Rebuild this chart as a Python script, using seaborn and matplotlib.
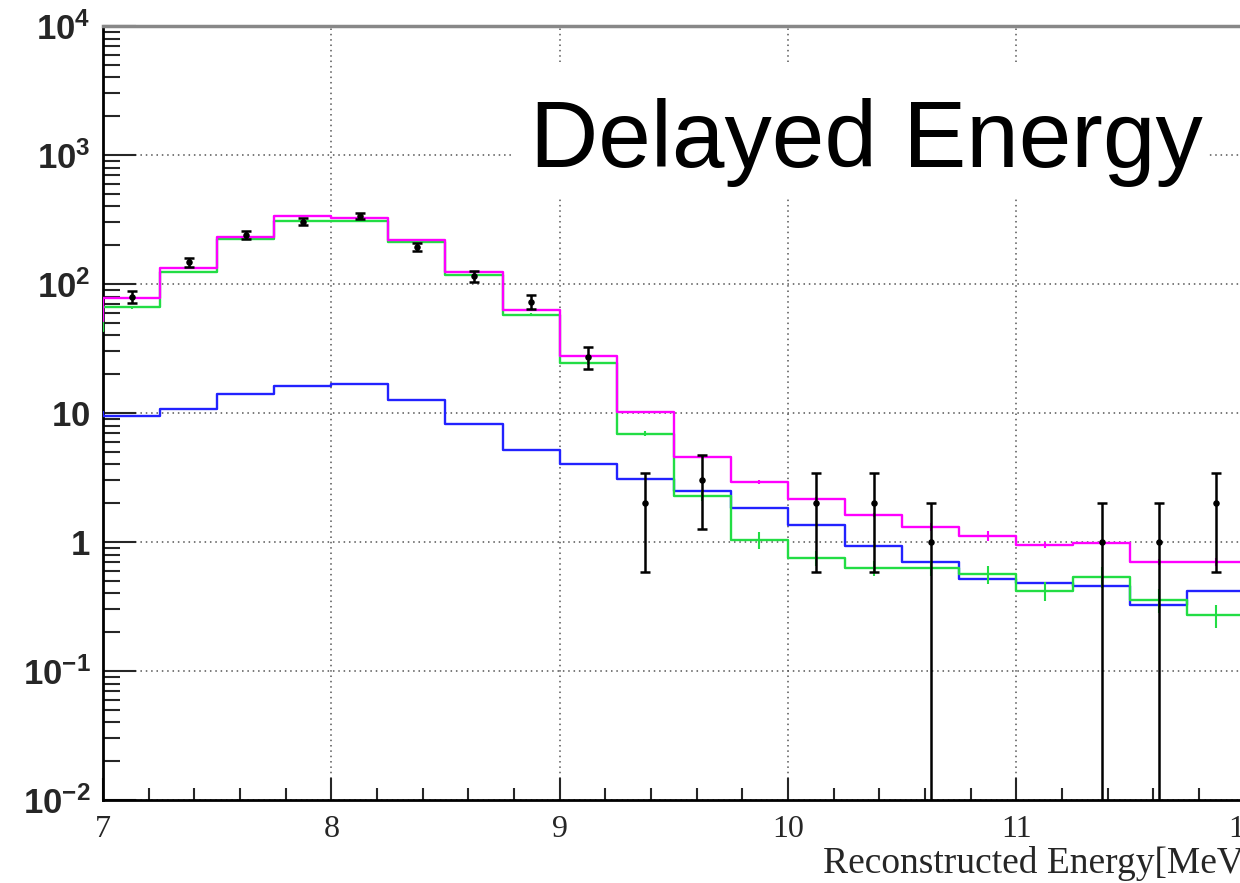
import numpy as np
import pandas as pd
import matplotlib
matplotlib.use("Agg")
import matplotlib.pyplot as plt
import seaborn as sns
from matplotlib.ticker import MultipleLocator, LogLocator, FuncFormatter, NullFormatter, FixedLocator
from matplotlib.patches import Rectangle

# ---------------- data ----------------
bin_edges = [6.75, 7.0, 7.25, 7.5, 7.75, 8.0, 8.25, 8.5, 8.75, 9.0, 9.25, 9.5,
             9.75, 10.0, 10.25, 10.5, 10.75, 11.0, 11.25, 11.5, 11.75, 12.0]
total_mc = [52, 78, 133, 231, 336, 325, 219, 124, 63, 27.7, 10.2, 4.6, 2.92,
            2.15, 1.62, 1.31, 1.11, 0.95, 0.98, 0.70, 0.70]
total_err = [0, 1.0, 1.5, 2.0, 2.5, 2.5, 2.0, 1.5, 1.0, 0.4, 0.15, 0.1, 0.12,
             0.1, 0.07, 0.1, 0.1, 0.055, 0.04, 0.04, 0.05]
signal_mc = [43, 66, 124, 223, 308, 306, 213, 117, 58, 24.4, 6.9, 2.27, 1.04,
             0.75, 0.63, 0.63, 0.56, 0.42, 0.54, 0.355, 0.27]
signal_err = [0, 1.5, 2.0, 3.0, 3.5, 3.5, 3.0, 2.0, 1.5, 0.8, 0.3, 0.2, 0.15,
              0.1, 0.085, 0.085, 0.09, 0.07, 0.1, 0.075, 0.055]
background_mc = [10.2, 9.5, 10.7, 14.0, 16.2, 16.8, 12.6, 8.2, 5.2, 4.0, 3.1,
                 2.5, 1.84, 1.36, 0.93, 0.70, 0.52, 0.48, 0.46, 0.325, 0.417]
data_counts = [0, 80, 148, 240, 305, 335, 195, 115, 73, 27, 2, 3, 0, 2, 2, 1,
               0, 0, 1, 1, 2]

title_text = "Delayed Energy"
x_label = "Reconstructed Energy[MeV]"

# ---------------- style ----------------
sns.set_style("white")
plt.rcParams["font.family"] = ["Liberation Sans", "DejaVu Sans"]
plt.rcParams["mathtext.fontset"] = "custom"
plt.rcParams["mathtext.bf"] = "Liberation Sans:bold"
plt.rcParams["mathtext.rm"] = "Liberation Sans"

MAGENTA = "#ff00ff"
GREEN = "#22dd44"
BLUE = "#2222ff"

fig = plt.figure(figsize=(12.4, 8.83), dpi=100)
W, H = 1240, 883
ax = fig.add_axes([103 / W, 1 - 800 / H, 1141.5 / W, 774 / H])

edges = np.array(bin_edges)
centers = 0.5 * (edges[:-1] + edges[1:])

def step_vals(v):
    v = np.asarray(v, dtype=float)
    return np.append(v, v[-1])

df = pd.DataFrame({
    "edge": np.concatenate([edges] * 3),
    "value": np.concatenate([step_vals(background_mc), step_vals(signal_mc),
                             step_vals(total_mc)]),
    "comp": ["bkg"] * len(edges) + ["sig"] * len(edges) + ["tot"] * len(edges),
})
sns.lineplot(data=df, x="edge", y="value", hue="comp",
             palette={"bkg": BLUE, "sig": GREEN, "tot": MAGENTA},
             hue_order=["bkg", "sig", "tot"], drawstyle="steps-post",
             estimator=None, lw=1.7, legend=False, ax=ax, zorder=3)

ax.errorbar(centers, signal_mc, yerr=signal_err, fmt="none", ecolor=GREEN,
            elinewidth=1.5, capsize=0, zorder=3)
ax.errorbar(centers, total_mc, yerr=total_err, fmt="none", ecolor=MAGENTA,
            elinewidth=1.5, capsize=0, zorder=3)

counts = np.asarray(data_counts, dtype=float)
m = counts > 0
ax.errorbar(centers[m], counts[m], yerr=np.sqrt(counts[m]), fmt="none",
            ecolor="black", elinewidth=1.8, capsize=3.5, capthick=1.8, zorder=5)
sns.scatterplot(x=centers[m], y=counts[m], color="black", s=22, marker="o",
                edgecolor="black", linewidth=0, ax=ax, zorder=6)

ax.set_yscale("log")
ax.set_xlim(7, 12)
ax.set_ylim(1e-2, 1e4)

# ticks
ax.xaxis.set_major_locator(MultipleLocator(1))
ax.xaxis.set_minor_locator(MultipleLocator(0.2))
ax.yaxis.set_major_locator(LogLocator(base=10, numticks=12))
ax.yaxis.set_minor_locator(LogLocator(base=10, subs=np.arange(2, 10), numticks=12))
ax.yaxis.set_minor_formatter(NullFormatter())

def yfmt(v, pos):
    e = int(round(np.log10(v)))
    if e == 0:
        return r"$\mathbf{1}$"
    if e == 1:
        return r"$\mathbf{10}$"
    return r"$\mathbf{10^{%d}}$" % e

ax.yaxis.set_major_formatter(FuncFormatter(yfmt))

ax.tick_params(axis="x", which="major", direction="in", length=16, width=1.5,
               pad=11, labelsize=23, bottom=True, top=False)
ax.tick_params(axis="x", which="minor", direction="in", length=8.5, width=1.5,
               bottom=True, top=False)
ax.tick_params(axis="y", which="major", direction="in", length=24, width=1.5,
               pad=9, labelsize=25, left=True, right=False)
ax.tick_params(axis="y", which="minor", direction="in", length=12, width=1.5,
               left=True, right=False)
for lab in ax.get_xticklabels():
    lab.set_family("Liberation Serif")

ax.grid(True, which="major", linestyle=(0, (1, 2.5)), color="#555555", lw=1.1)
ax.set_axisbelow(True)

for s in ["left", "bottom"]:
    ax.spines[s].set_color("black")
    ax.spines[s].set_linewidth(2)
ax.spines["top"].set_color("#888888")
ax.spines["top"].set_linewidth(2.5)
ax.spines["right"].set_visible(False)

ax.set_ylabel("")
ax.set_xlabel(x_label, fontsize=27, family="Liberation Serif")
ax.xaxis.label.set_horizontalalignment("left")
ax.xaxis.label.set_verticalalignment("baseline")
ax.xaxis.set_label_coords((823 - 103) / 1141.5, -(873 - 800) / 774)

# white box behind the big title
fig.add_artist(Rectangle((512 / W, 1 - 197 / H), (1208 - 512) / W, (197 - 62) / H,
                         transform=fig.transFigure, facecolor="white",
                         edgecolor="none", zorder=1))
fig.text(530 / W, 1 - 167 / H, title_text, fontsize=68, family="Liberation Sans",
         ha="left", va="baseline", color="black", zorder=3)

fig.savefig("out.png", dpi=100)
